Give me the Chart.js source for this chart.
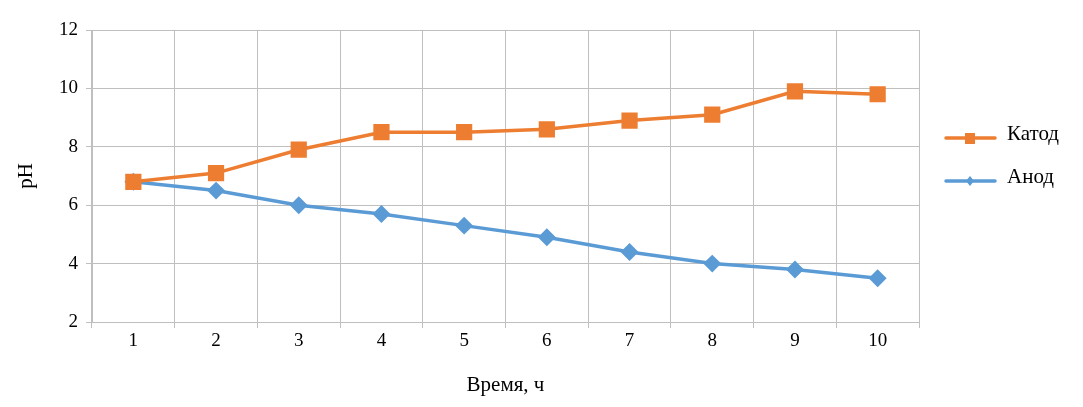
<!DOCTYPE html>
<html>
<head>
<meta charset="utf-8">
<script src="https://cdn.jsdelivr.net/npm/chart.js@4/dist/chart.umd.min.js"></script>
<style>
  html, body { margin: 0; padding: 0; background: #fff; }
  #wrap { width: 1083px; height: 407px; }
</style>
</head>
<body>
<div id="wrap"><canvas id="myChart"></canvas></div>
<script>
const hours = ["1", "2", "3", "4", "5", "6", "7", "8", "9", "10"];
const katod = [6.8, 7.1, 7.9, 8.5, 8.5, 8.6, 8.9, 9.1, 9.9, 9.8];
const anod = [6.8, 6.5, 6.0, 5.7, 5.3, 4.9, 4.4, 4.0, 3.8, 3.5];
const yTicks = [2, 4, 6, 8, 10, 12];

const fontFam = "'Liberation Serif', 'Times New Roman', serif";
const gridColor = "#bfbfbf";

// легенда справа: линия с маркером и подпись
const sideLegend = {
  id: "sideLegend",
  afterDraw(chart) {
    const c = chart.ctx;
    const rows = [138, 181];
    chart.data.datasets.forEach((ds, i) => {
      const y = rows[i];
      c.save();
      c.strokeStyle = ds.borderColor;
      c.lineWidth = 3.5;
      c.lineCap = "round";
      c.beginPath();
      c.moveTo(946, y);
      c.lineTo(995, y);
      c.stroke();
      c.fillStyle = ds.borderColor;
      if (ds.pointStyle === "rect") {
        c.fillRect(965, y - 5, 10, 11);
      } else {
        c.beginPath();
        c.moveTo(970, y - 5);
        c.lineTo(974, y);
        c.lineTo(970, y + 5);
        c.lineTo(966, y);
        c.closePath();
        c.fill();
      }
      c.fillStyle = "#000";
      c.font = "21px " + fontFam;
      c.textBaseline = "middle";
      c.fillText(ds.label, 1007, y - 4);
      c.restore();
    });
  }
};

const ctx = document.getElementById("myChart").getContext("2d");
const myChart = new Chart(ctx, {
  type: "line",
  data: {
    labels: hours,
    datasets: [
      {
        label: "Катод",
        data: katod,
        borderColor: "#ED7D31",
        backgroundColor: "#ED7D31",
        borderWidth: 3.5,
        pointStyle: "rect",
        pointRadius: 9,
        pointHoverRadius: 9,
        fill: false,
      },
      {
        label: "Анод",
        data: anod,
        borderColor: "#5B9BD5",
        backgroundColor: "#5B9BD5",
        borderWidth: 3.5,
        pointStyle: "rectRot",
        pointRadius: 6.5,
        pointHoverRadius: 6.5,
        fill: false,
      },
    ],
  },
  options: {
    responsive: true,
    maintainAspectRatio: false,
    animation: false,
    layout: { padding: { top: 30, right: 164, left: 0, bottom: 0 } },
    plugins: {
      legend: { display: false },
      tooltip: { enabled: false },
    },
    scales: {
      x: {
        offset: true,
        grid: { offset: true, color: gridColor, tickLength: 6 },
        border: { color: gridColor },
        ticks: { color: "#000", font: { family: fontFam, size: 19 }, padding: 2, maxRotation: 0 },
        title: { display: true, text: "Время, ч", color: "#000", font: { family: fontFam, size: 21 }, padding: { top: 0, bottom: 9 } },
        afterFit(s) { s.height = 85; },
      },
      y: {
        min: 2,
        max: 12,
        afterBuildTicks(s) { s.ticks = yTicks.map(v => ({ value: v })); },
        grid: { color: gridColor, tickLength: 6 },
        border: { color: gridColor },
        ticks: { color: "#000", font: { family: fontFam, size: 19 }, padding: 8 },
        title: { display: true, text: "pH", color: "#000", font: { family: fontFam, size: 21 }, padding: { top: 14, bottom: 0 } },
        afterFit(s) { s.width = 92; },
      },
    },
  },
  plugins: [sideLegend],
});
</script>
</body>
</html>
